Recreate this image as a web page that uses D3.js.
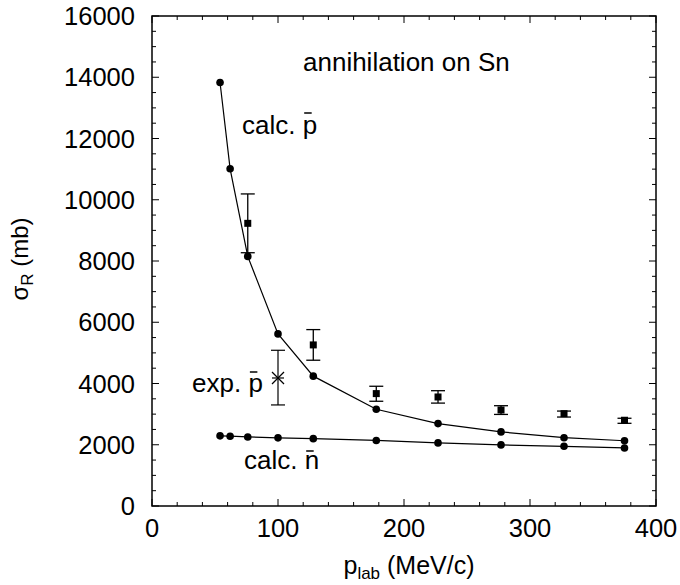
<!DOCTYPE html>
<html>
<head>
<meta charset="utf-8">
<script src="https://cdn.jsdelivr.net/npm/d3@7"></script>
<style>
  html, body { margin: 0; padding: 0; background: #fff; }
  svg { display: block; }
  text { font-family: "Liberation Sans", Arial, Helvetica, sans-serif; fill: #000; }
</style>
</head>
<body>
<svg id="chart" width="680" height="585"></svg>
<script>
// ---- data ----
const calcX = [54, 62, 76, 100, 128, 178, 227, 277, 327, 375];
const calcPbarY = [13830, 11010, 8150, 5620, 4240, 3160, 2690, 2420, 2230, 2130];
const calcNbarY = [2290, 2280, 2255, 2225, 2200, 2140, 2060, 1995, 1950, 1895];

const expX = [76, 128, 178, 227, 277, 327, 375];
const expY = [9230, 5260, 3670, 3560, 3135, 3015, 2800];
const expLo = [8270, 4760, 3420, 3360, 2990, 2905, 2700];
const expHi = [10190, 5760, 3910, 3765, 3275, 3100, 2865];

const starX = [100];
const starY = [4180];
const starLo = [3300];
const starHi = [5085];

const xTicks = [0, 100, 200, 300, 400];
const yTicks = [0, 2000, 4000, 6000, 8000, 10000, 12000, 14000, 16000];

// ---- layout ----
const svg = d3.select("#chart");
const L = 152, R = 656, T = 16, B = 506;
const x = d3.scaleLinear().domain([0, 400]).range([L, R]);
const y = d3.scaleLinear().domain([0, 16000]).range([B, T]);

const tickFont = 25.5;

// frame
svg.append("rect").attr("x", L).attr("y", T).attr("width", R - L).attr("height", B - T)
  .attr("fill", "none").attr("stroke", "#000").attr("stroke-width", 1.5);

// ticks (inward on all sides)
const xMinor = d3.range(0, 401, 20);
const yMinor = d3.range(0, 16001, 500);
const tg = svg.append("g").attr("stroke", "#000").attr("stroke-width", 1);
xMinor.forEach(v => {
  const len = (v % 100 === 0) ? 7 : 4;
  tg.append("line").attr("x1", x(v)).attr("x2", x(v)).attr("y1", B).attr("y2", B - len);
  tg.append("line").attr("x1", x(v)).attr("x2", x(v)).attr("y1", T).attr("y2", T + len);
});
yMinor.forEach(v => {
  const len = (v % 2000 === 0) ? 7 : 4;
  tg.append("line").attr("y1", y(v)).attr("y2", y(v)).attr("x1", L).attr("x2", L + len);
  tg.append("line").attr("y1", y(v)).attr("y2", y(v)).attr("x1", R).attr("x2", R - len);
});

// tick labels
svg.append("g").selectAll("text").data(xTicks).join("text")
  .attr("x", d => x(d)).attr("y", 537)
  .attr("text-anchor", "middle").attr("font-size", tickFont)
  .text(d => d);
svg.append("g").selectAll("text").data(yTicks).join("text")
  .attr("x", 135).attr("y", d => y(d) + 9)
  .attr("text-anchor", "end").attr("font-size", tickFont)
  .text(d => d);

// axis titles
const xt = svg.append("text").attr("x", 409).attr("y", 574)
  .attr("text-anchor", "middle").attr("font-size", 25);
xt.append("tspan").text("p");
xt.append("tspan").attr("font-size", 17).attr("dy", 5).text("lab");
xt.append("tspan").attr("dy", -5).text(" (MeV/c)");

const yt = svg.append("text").attr("transform", "translate(28,259) rotate(-90)")
  .attr("text-anchor", "middle").attr("font-size", 24);
yt.append("tspan").text("σ");
yt.append("tspan").attr("font-size", 17).attr("dy", 5).text("R");
yt.append("tspan").attr("dy", -5).text(" (mb)");

// curves
const line = d3.line().x(d => x(d[0])).y(d => y(d[1]));
const pData = calcX.map((v, i) => [v, calcPbarY[i]]);
const nData = calcX.map((v, i) => [v, calcNbarY[i]]);
[pData, nData].forEach(dat => {
  svg.append("path").datum(dat).attr("d", line)
    .attr("fill", "none").attr("stroke", "#000").attr("stroke-width", 1.2);
  svg.append("g").selectAll("circle").data(dat).join("circle")
    .attr("cx", d => x(d[0])).attr("cy", d => y(d[1])).attr("r", 3.8).attr("fill", "#000");
});

// experimental squares with error bars
const eg = svg.append("g").attr("stroke", "#000").attr("stroke-width", 1.3);
expX.forEach((v, i) => {
  const cx = x(v);
  eg.append("line").attr("x1", cx).attr("x2", cx).attr("y1", y(expLo[i])).attr("y2", y(expHi[i]));
  eg.append("line").attr("x1", cx - 7).attr("x2", cx + 7).attr("y1", y(expLo[i])).attr("y2", y(expLo[i]));
  eg.append("line").attr("x1", cx - 7).attr("x2", cx + 7).attr("y1", y(expHi[i])).attr("y2", y(expHi[i]));
});
svg.append("g").selectAll("rect").data(expX).join("rect")
  .attr("x", d => x(d) - 3.5).attr("y", (d, i) => y(expY[i]) - 3.5)
  .attr("width", 7).attr("height", 7).attr("fill", "#000");

// star point with error bar
const sg = svg.append("g").attr("stroke", "#000").attr("stroke-width", 1.2);
starX.forEach((v, i) => {
  const cx = x(v), cy = y(starY[i]);
  sg.append("line").attr("x1", cx).attr("x2", cx).attr("y1", y(starLo[i])).attr("y2", y(starHi[i]));
  sg.append("line").attr("x1", cx - 7).attr("x2", cx + 7).attr("y1", y(starLo[i])).attr("y2", y(starLo[i]));
  sg.append("line").attr("x1", cx - 7).attr("x2", cx + 7).attr("y1", y(starHi[i])).attr("y2", y(starHi[i]));
  const s = 6;
  sg.append("line").attr("x1", cx - s).attr("x2", cx + s).attr("y1", cy - s).attr("y2", cy + s);
  sg.append("line").attr("x1", cx - s).attr("x2", cx + s).attr("y1", cy + s).attr("y2", cy - s);
  sg.append("line").attr("x1", cx - s).attr("x2", cx + s).attr("y1", cy).attr("y2", cy);
});

// annotations
const annFont = 26;
svg.append("text").attr("x", 303).attr("y", 71).attr("font-size", annFont).text("annihilation on Sn");

function barLabel(xx, yy, pre, letter, barUp) {
  const t = svg.append("text").attr("x", xx).attr("y", yy).attr("font-size", annFont);
  t.append("tspan").text(pre);
  t.append("tspan").text(letter);
  const idx = pre.length;
  const ext = t.node().getExtentOfChar(idx);
  svg.append("line")
    .attr("x1", ext.x + 1.5).attr("x2", ext.x + 9)
    .attr("y1", yy - barUp).attr("y2", yy - barUp)
    .attr("stroke", "#000").attr("stroke-width", 1.5);
}
barLabel(242, 134, "calc. ", "p", 21);
barLabel(192, 392, "exp. ", "p", 20);
barLabel(244, 469, "calc. ", "n", 18);
</script>
</body>
</html>
